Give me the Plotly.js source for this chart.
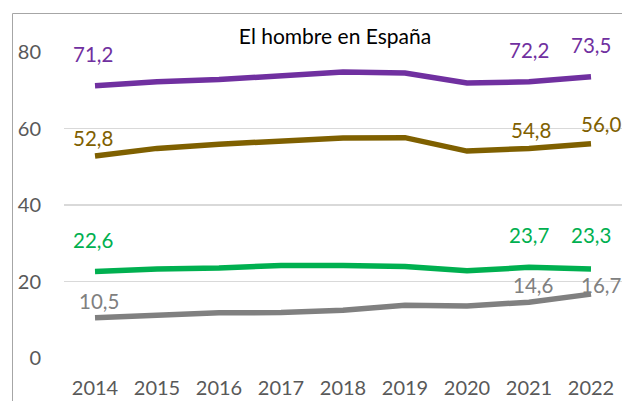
<!DOCTYPE html>
<html>
<head>
<meta charset="utf-8">
<script src="https://cdn.plot.ly/plotly-3.0.1.min.js"></script>
<style>
html,body{margin:0;padding:0;background:#fff;}
#chart{width:622px;height:401px;}
</style>
</head>
<body>
<div id="chart"></div>
<script>
// ---- Data ----
const years = ["2014","2015","2016","2017","2018","2019","2020","2021","2022"];
const purpleValues = [71.2, 72.2, 72.8, 73.9, 74.8, 74.5, 71.9, 72.2, 73.5];
const brownValues  = [52.8, 54.8, 55.9, 56.6, 57.5, 57.6, 54.1, 54.8, 56.0];
const greenValues  = [22.6, 23.3, 23.5, 24.2, 24.2, 23.9, 22.8, 23.7, 23.3];
const grayValues   = [10.5, 11.2, 11.8, 11.9, 12.5, 13.8, 13.6, 14.6, 16.7];
const labelIndices = [0, 7, 8];
const yTickValues = [0, 20, 40, 60, 80];
const chartTitle = "El hombre en España";

// ---- Styles ----
const FONT = "Lato, 'Open Sans', sans-serif";
const series = [
  {values: purpleValues, color: "#7030A0", shifts: [[-2,32],[0,32],[0,32]]},
  {values: brownValues,  color: "#7F6000", shifts: [[-2,18],[2,18],[10,20]]},
  {values: greenValues,  color: "#00B050", shifts: [[-2,32],[0,32],[0,34]]},
  {values: grayValues,   color: "#808080", shifts: [[4,17],[4,17],[10,9]]}
];

const W = 622, H = 401;
const M = {l: 64, r: 0, t: 52, b: 43};
const plotW = W - M.l - M.r, plotH = H - M.t - M.b;

const traces = series.map(s => ({
  type: "scatter",
  mode: "lines",
  x: years,
  y: s.values,
  line: {color: s.color, width: 5.5},
  hoverinfo: "skip",
  showlegend: false
}));

const annotations = [];
series.forEach(s => {
  labelIndices.forEach((idx, k) => {
    annotations.push({
      x: idx, y: s.values[idx], xref: "x", yref: "y",
      text: s.values[idx].toFixed(1).replace(".", ","),
      showarrow: false,
      xanchor: "center", yanchor: "middle",
      xshift: s.shifts[k][0], yshift: s.shifts[k][1],
      font: {family: FONT, size: 20.5, color: s.color}
    });
  });
});

const layout = {
  width: W, height: H,
  margin: M,
  paper_bgcolor: "#ffffff",
  plot_bgcolor: "#ffffff",
  showlegend: false,
  title: {
    text: chartTitle,
    font: {family: FONT, size: 21, color: "#000000"},
    xref: "container", yref: "container",
    x: 335 / W, y: 1 - 37 / H,
    xanchor: "center", yanchor: "middle"
  },
  xaxis: {
    type: "category",
    range: [-0.5, 8.5],
    showgrid: false, zeroline: false, showline: false,
    ticks: "outside", ticklen: 12, tickcolor: "rgba(0,0,0,0)",
    tickfont: {family: FONT, size: 20, color: "#595959"},
    fixedrange: true
  },
  yaxis: {
    range: [0, 80],
    tickvals: yTickValues,
    showgrid: true, gridcolor: "#D9D9D9", gridwidth: 1.5,
    zeroline: false, showline: false,
    ticks: "outside", ticklen: 18, tickcolor: "rgba(0,0,0,0)",
    tickfont: {family: FONT, size: 20, color: "#595959"},
    fixedrange: true
  },
  shapes: [{
    type: "rect", xref: "paper", yref: "paper",
    x0: (12.5 - M.l) / plotW, x1: 1.2,
    y0: -0.5, y1: (H - M.b - 13.5) / plotH,
    line: {color: "#A6A6A6", width: 1},
    fillcolor: "rgba(0,0,0,0)",
    layer: "below"
  }],
  annotations: annotations
};

Plotly.newPlot("chart", traces, layout, {displayModeBar: false, staticPlot: true});
</script>
</body>
</html>
